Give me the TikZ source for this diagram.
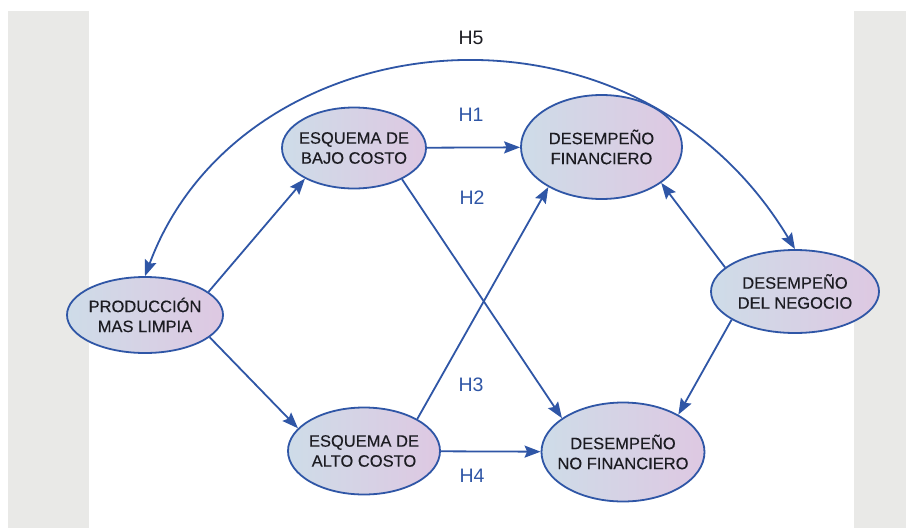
\documentclass[tikz,border=0pt]{standalone}
\usepackage{fontspec}
\setmainfont{Liberation Sans}
\newfontfamily\boldish[FakeBold=0.35]{Liberation Sans}
\usetikzlibrary{arrows.meta,shapes.geometric}
\definecolor{lineblue}{RGB}{47,86,166}
\definecolor{bggray}{RGB}{233,233,231}
\definecolor{fillL}{RGB}{206,220,232}
\definecolor{fillR}{RGB}{222,200,226}
\definecolor{txt}{RGB}{28,28,34}
\tikzset{
  ell/.style={ellipse, draw=lineblue, line width=1.8pt, inner sep=0pt,
    left color=fillL, right color=fillR},
  ntext/.style={align=center, text=txt, inner sep=0pt,
    font=\boldish\fontsize{16.5}{20}\selectfont},
  hlab/.style={text=lineblue, inner sep=0pt, font=\fontsize{19.5}{22}\selectfont},
  conn/.style={draw=lineblue, line width=1.8pt,
    -{Stealth[length=16pt,width=12pt,inset=2.5pt]}},
  conn2/.style={draw=lineblue, line width=1.8pt,
    {Stealth[length=16pt,width=12pt,inset=2.5pt]}-{Stealth[length=16pt,width=12pt,inset=2.5pt]}}
}
\begin{document}
\begin{tikzpicture}[x=1pt,y=-1pt]
\useasboundingbox (0,0) rectangle (906,528);
\fill[white] (0,0) rectangle (906,528);
\fill[bggray] (8,11) rectangle (89,528);
\fill[bggray] (854,11) rectangle (906,528);

\node[ell, minimum width=156pt, minimum height=76pt] (PROD) at (145,315) {};
\node[ell, minimum width=144pt, minimum height=81pt] (BAJO) at (354,148) {};
\node[ell, minimum width=161pt, minimum height=104pt] (FIN) at (601.5,147) {};
\node[ell, minimum width=168pt, minimum height=83pt] (NEG) at (795,291.5) {};
\node[ell, minimum width=152pt, minimum height=87pt] (ALTO) at (364,451) {};
\node[ell, minimum width=163pt, minimum height=99pt] (NOFIN) at (623,452) {};

\node[ntext] (PRODt) at (PROD.center) {PRODUCCIÓN\\MAS LIMPIA};
\node[ntext] (BAJOt) at (BAJO.center) {ESQUEMA DE\\BAJO COSTO};
\node[ntext] (FINt) at (FIN.center) {DESEMPEÑO\\FINANCIERO};
\node[ntext] (NEGt) at (NEG.center) {DESEMPEÑO\\DEL NEGOCIO};
\node[ntext] (ALTOt) at (ALTO.center) {ESQUEMA DE\\ALTO COSTO};
\node[ntext] (NOFINt) at (NOFIN.center) {DESEMPEÑO\\NO FINANCIERO};

\draw[conn] (PROD.20) -- (BAJO.212);
\draw[conn] (PROD.-19) -- (ALTO.161);
\draw[conn] (BAJO) -- (FIN);
\draw[conn] (ALTO) -- (NOFIN);
\draw[conn] (BAJO.-33) -- (NOFIN.151);
\draw[conn] (ALTO.31) -- (FIN.217);
\draw[conn] (NEG.161) -- (FIN.-31);
\draw[conn] (NEG.204) -- (NOFIN.34);
\draw[conn2] (PROD.north) .. controls (240,20) and (630,-25) .. (NEG.north);

\node[hlab, text=txt] (H5) at (471,38) {H5};
\node[hlab] (H1) at (471,115) {H1};
\node[hlab] (H2) at (472,198) {H2};
\node[hlab] (H3) at (471,385) {H3};
\node[hlab] (H4) at (472,476) {H4};
\end{tikzpicture}
\end{document}
